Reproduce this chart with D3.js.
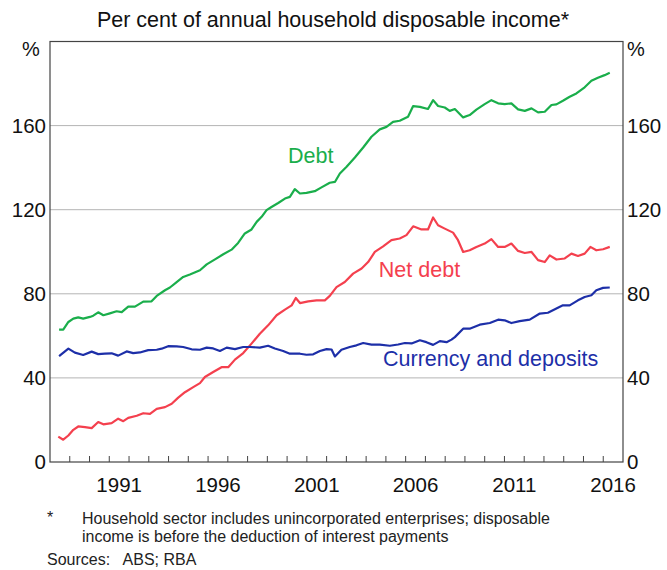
<!DOCTYPE html>
<html>
<head>
<meta charset="utf-8">
<script src="https://cdn.jsdelivr.net/npm/d3@7"></script>
<style>
  body { margin: 0; background: #fff; }
  text { font-family: "Liberation Sans", Arial, sans-serif; }
</style>
</head>
<body>
<div id="chart"></div>
<script>
// Data (decimal year, per cent of income)
var debtYears = [1988.46, 1988.67, 1988.93, 1989.18, 1989.43, 1989.68, 1990.02, 1990.19, 1990.44, 1990.70,
  1991.03, 1991.37, 1991.63, 1991.96, 1992.30, 1992.72, 1993.14, 1993.40, 1993.82, 1994.07,
  1994.41, 1994.74, 1995.08, 1995.59, 1995.93, 1996.35, 1996.77, 1997.19, 1997.52, 1997.86,
  1998.20, 1998.46, 1998.71, 1998.96, 1999.21, 1999.55, 1999.89, 2000.14, 2000.39, 2000.65,
  2000.98, 2001.40, 2001.74, 2002.16, 2002.42, 2002.67, 2003.01, 2003.43, 2003.85, 2004.27,
  2004.69, 2005.03, 2005.36, 2005.70, 2006.12, 2006.38, 2006.72, 2007.13, 2007.39, 2007.64,
  2007.98, 2008.23, 2008.49, 2008.91, 2009.24, 2009.58, 2010.00, 2010.34, 2010.68, 2011.01,
  2011.35, 2011.69, 2012.03, 2012.37, 2012.70, 2013.04, 2013.38, 2013.63, 2013.96, 2014.30,
  2014.64, 2015.06, 2015.40, 2015.73, 2016.07, 2016.33];
var debtValues = [63, 63, 66.6, 68.2, 68.8, 68.2, 69, 69.6, 71.2, 69.8,
  70.7, 71.7, 71.3, 73.9, 73.9, 76.3, 76.4, 79, 81.7, 83,
  85.6, 88, 89.2, 91.2, 94, 96.4, 98.8, 101, 104.2, 108.7,
  110.6, 114.2, 116.6, 119.8, 121.3, 123.2, 125.3, 126.1, 129.8, 127.7,
  128, 128.8, 130.6, 132.8, 133.2, 137.2, 140.4, 144.8, 149.6, 154.7,
  158.2, 159.4, 161.8, 162.3, 164.2, 169.3, 168.9, 167.9, 172.1, 169.3,
  168.6, 167, 167.9, 163.9, 165, 167.6, 170.2, 172.1, 170.6, 170.2,
  170.6, 167.7, 167, 168.2, 166.3, 166.6, 169.8, 170.1, 171.8, 173.7,
  175.3, 178.2, 181.3, 182.8, 184, 185.1];

var netDebtYears = [1988.42, 1988.67, 1988.93, 1989.18, 1989.43, 1989.77, 1990.11, 1990.44, 1990.70, 1991.12,
  1991.45, 1991.71, 1991.96, 1992.39, 1992.72, 1993.06, 1993.40, 1993.82, 1994.16, 1994.49,
  1994.83, 1995.25, 1995.59, 1995.84, 1996.26, 1996.68, 1997.02, 1997.36, 1997.78, 1998.20,
  1998.62, 1999.04, 1999.47, 1999.89, 2000.23, 2000.44, 2000.65, 2001.07, 2001.49, 2001.91,
  2002.16, 2002.50, 2002.92, 2003.34, 2003.77, 2004.10, 2004.44, 2004.86, 2005.28, 2005.70,
  2006.04, 2006.38, 2006.80, 2007.13, 2007.39, 2007.64, 2007.98, 2008.40, 2008.65, 2008.91,
  2009.24, 2009.58, 2010.00, 2010.34, 2010.68, 2011.01, 2011.35, 2011.69, 2012.03, 2012.37,
  2012.70, 2013.04, 2013.29, 2013.63, 2014.05, 2014.39, 2014.72, 2015.06, 2015.35, 2015.65,
  2015.99, 2016.33];
var netDebtValues = [12.1, 10.6, 12.6, 15.3, 16.9, 16.6, 16.1, 19, 17.9, 18.5,
  20.6, 19.4, 21, 22, 23.2, 22.9, 25.3, 26.1, 27.7, 30.6,
  33.2, 35.6, 37.5, 40.4, 42.8, 45.1, 45.1, 48.7, 51.8, 56.3,
  61, 65, 69.8, 72.5, 74.5, 78, 75.6, 76.4, 76.9, 76.9,
  79, 83.2, 85.6, 89.6, 92, 95.1, 99.9, 102.6, 105.5, 106.3,
  107.9, 112.1, 110.6, 110.6, 116.3, 112.6, 111, 109.1, 105.5, 99.9,
  100.7, 102.3, 103.9, 106, 102.3, 102.3, 103.9, 100.4, 99.4, 99.9,
  96, 95.1, 98.3, 96.3, 96.8, 99.1, 98, 99.1, 102.3, 100.7,
  101.2, 102.3];

var depositYears = [1988.46, 1988.93, 1989.26, 1989.68, 1990.11, 1990.44, 1990.78, 1991.12, 1991.45, 1991.88,
  1992.21, 1992.55, 1992.97, 1993.40, 1993.65, 1993.98, 1994.41, 1994.74, 1995.17, 1995.59,
  1995.93, 1996.26, 1996.60, 1996.94, 1997.36, 1997.78, 1998.12, 1998.62, 1999.04, 1999.38,
  1999.80, 2000.14, 2000.65, 2000.98, 2001.32, 2001.66, 2002.00, 2002.25, 2002.42, 2002.75,
  2003.17, 2003.51, 2003.85, 2004.27, 2004.69, 2005.20, 2005.62, 2005.96, 2006.30, 2006.72,
  2007.05, 2007.39, 2007.73, 2008.07, 2008.32, 2008.49, 2008.91, 2009.24, 2009.75, 2010.26,
  2010.68, 2011.01, 2011.35, 2011.77, 2012.28, 2012.79, 2013.20, 2013.63, 2013.96, 2014.30,
  2014.72, 2015.06, 2015.40, 2015.65, 2015.99, 2016.33];
var depositValues = [50.4, 53.9, 52, 50.9, 52.5, 51.3, 51.5, 51.7, 50.6, 52.6,
  51.8, 52.1, 53.2, 53.4, 53.9, 55.1, 55, 54.7, 53.6, 53.4,
  54.4, 54, 52.8, 54.4, 53.7, 54.7, 54.7, 54.4, 55.3, 54,
  52.8, 51.5, 51.5, 51, 51.2, 52.8, 53.7, 53.5, 50.2, 53.4,
  54.7, 55.5, 56.6, 55.8, 55.8, 55.3, 55.9, 56.6, 56.4, 57.9,
  57, 55.7, 57.5, 57, 58.2, 59.4, 63.4, 63.4, 65.3, 66.1,
  67.7, 67.4, 66.1, 67, 67.7, 70.6, 71, 73, 74.5, 74.5,
  76.9, 78.5, 79.3, 81.7, 82.8, 83];

var yTicks = [0, 40, 80, 120, 160];
var yearTicks = d3.range(1989, 2017);
var yearLabels = [1991, 1996, 2001, 2006, 2011, 2016];

var svgWidth = 667;
var svgHeight = 570;
var margin = { top: 41.5, right: 44, bottom: 108, left: 50 };
var chartWidth = svgWidth - margin.left - margin.right;
var chartHeight = svgHeight - margin.top - margin.bottom;

var svg = d3.select("#chart")
  .append("svg")
  .attr("width", svgWidth)
  .attr("height", svgHeight);

var chartGroup = svg.append("g")
  .attr("transform", `translate(${margin.left}, ${margin.top})`);

var xScale = d3.scaleLinear().domain([1988, 2017]).range([0, chartWidth]);
var yScale = d3.scaleLinear().domain([0, 200]).range([chartHeight, 0]);

// horizontal gridlines
chartGroup.append("g")
  .selectAll("line")
  .data(yTicks.filter(d => d > 0))
  .enter()
  .append("line")
  .attr("x1", 0)
  .attr("x2", chartWidth)
  .attr("y1", d => yScale(d))
  .attr("y2", d => yScale(d))
  .attr("stroke", "#b4b4b4")
  .attr("stroke-width", 1);

// frame
chartGroup.append("rect")
  .attr("x", 0)
  .attr("y", 0)
  .attr("width", chartWidth)
  .attr("height", chartHeight)
  .attr("fill", "none")
  .attr("stroke", "#444")
  .attr("stroke-width", 1.2);

// year tick marks
chartGroup.append("g")
  .selectAll("line")
  .data(yearTicks)
  .enter()
  .append("line")
  .attr("x1", d => xScale(d))
  .attr("x2", d => xScale(d))
  .attr("y1", chartHeight)
  .attr("y2", chartHeight - 6)
  .attr("stroke", "#444")
  .attr("stroke-width", 1);

// year labels, centred in the year
chartGroup.append("g")
  .selectAll("text")
  .data(yearLabels)
  .enter()
  .append("text")
  .attr("x", d => xScale(d + 0.5))
  .attr("y", chartHeight + 30)
  .attr("text-anchor", "middle")
  .attr("font-size", "20.5px")
  .attr("fill", "#111")
  .text(d => d);

// y labels on both sides
chartGroup.append("g")
  .selectAll("text")
  .data(yTicks)
  .enter()
  .append("text")
  .attr("x", -4)
  .attr("y", d => yScale(d) + 7)
  .attr("text-anchor", "end")
  .attr("font-size", "20.5px")
  .attr("fill", "#111")
  .text(d => d);

chartGroup.append("g")
  .selectAll("text")
  .data(yTicks)
  .enter()
  .append("text")
  .attr("x", chartWidth + 4)
  .attr("y", d => yScale(d) + 7)
  .attr("text-anchor", "start")
  .attr("font-size", "20.5px")
  .attr("fill", "#111")
  .text(d => d);

chartGroup.append("text")
  .attr("x", -28)
  .attr("y", 14)
  .attr("font-size", "20px")
  .attr("fill", "#111")
  .text("%");

chartGroup.append("text")
  .attr("x", chartWidth + 4)
  .attr("y", 14)
  .attr("font-size", "20px")
  .attr("fill", "#111")
  .text("%");

// lines
var series = [
  { years: debtYears, values: debtValues, color: "#1aae4b" },
  { years: netDebtYears, values: netDebtValues, color: "#f4404e" },
  { years: depositYears, values: depositValues, color: "#1d2fa8" }
];

var line = d3.line()
  .x(d => xScale(d[0]))
  .y(d => yScale(d[1]));

series.forEach(function(s) {
  chartGroup.append("path")
    .datum(d3.zip(s.years, s.values))
    .attr("d", line)
    .attr("fill", "none")
    .attr("stroke", s.color)
    .attr("stroke-width", 2.2)
    .attr("stroke-linejoin", "round");
});

// series labels
chartGroup.append("text")
  .attr("x", xScale(2001.2))
  .attr("y", yScale(142))
  .attr("text-anchor", "middle")
  .attr("font-size", "21.5px")
  .attr("fill", "#1aae4b")
  .text("Debt");

chartGroup.append("text")
  .attr("x", xScale(2006.7))
  .attr("y", yScale(88))
  .attr("text-anchor", "middle")
  .attr("font-size", "21.5px")
  .attr("fill", "#f4404e")
  .text("Net debt");

chartGroup.append("text")
  .attr("x", xScale(2010.3))
  .attr("y", yScale(45.5))
  .attr("text-anchor", "middle")
  .attr("font-size", "21.5px")
  .attr("fill", "#1d2fa8")
  .text("Currency and deposits");

// title
svg.append("text")
  .attr("x", 333)
  .attr("y", 27)
  .attr("text-anchor", "middle")
  .attr("font-size", "21.5px")
  .attr("fill", "#111")
  .text("Per cent of annual household disposable income*");

// notes
var notes = svg.append("g").attr("font-size", "16px").attr("fill", "#222");
notes.append("text").attr("x", 47).attr("y", 523).text("*");
notes.append("text").attr("x", 82).attr("y", 524)
  .text("Household sector includes unincorporated enterprises; disposable");
notes.append("text").attr("x", 82).attr("y", 542)
  .text("income is before the deduction of interest payments");
notes.append("text").attr("x", 47).attr("y", 565)
  .text("Sources:\u00a0\u00a0 ABS; RBA");
</script>
</body>
</html>
